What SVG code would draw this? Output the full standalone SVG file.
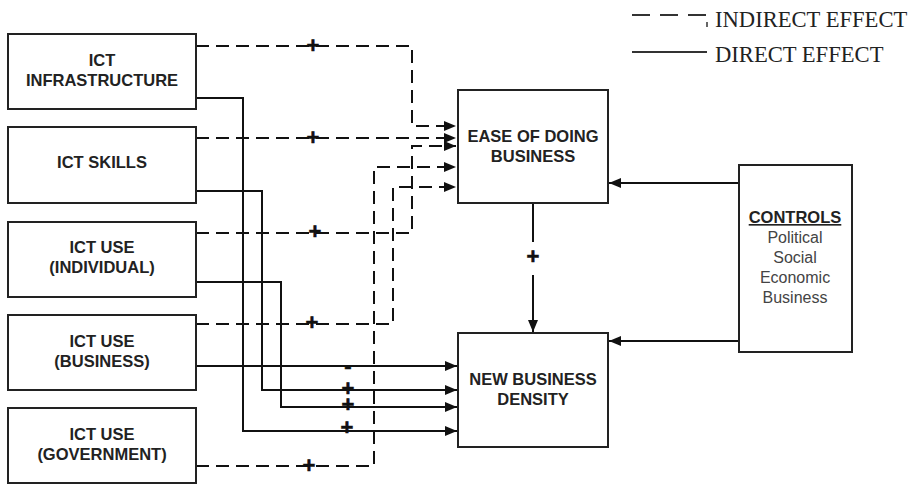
<svg xmlns="http://www.w3.org/2000/svg" width="914" height="485" viewBox="0 0 914 485">
<style>
.box{fill:#fff;stroke:#222;stroke-width:2}
.lbl{font-family:"Liberation Sans",Arial,sans-serif;font-weight:bold;font-size:16.5px;fill:#222;text-anchor:middle}
.ctl{font-family:"Liberation Sans",Arial,sans-serif;font-size:16px;fill:#444;text-anchor:middle}
.sign{font-family:"Liberation Sans",Arial,sans-serif;font-weight:bold;font-size:22px;fill:#111;stroke:#111;stroke-width:0.6;text-anchor:middle}
.leg{font-family:"Liberation Serif","Times New Roman",serif;font-size:22.6px;fill:#222}
.solid{fill:none;stroke:#111;stroke-width:2}
.dash{fill:none;stroke:#111;stroke-width:2;stroke-dasharray:13 7}
</style>
<defs>
<marker id="ah" viewBox="0 0 12 10" refX="12" refY="5" markerWidth="12" markerHeight="10" markerUnits="userSpaceOnUse" orient="auto">
<path d="M0,0 L12,5 L0,10 Z" fill="#111"/>
</marker>
</defs>
<g id="legend">
<line x1="632" y1="15" x2="707" y2="15" stroke="#333" stroke-width="2" stroke-dasharray="18 10"/>
<line x1="707" y1="22" x2="707" y2="27" stroke="#333" stroke-width="1.5"/>
<text class="leg" x="715" y="27">INDIRECT EFFECT</text>
<line x1="632" y1="52" x2="707" y2="52" stroke="#333" stroke-width="2"/>
<text class="leg" x="715" y="62">DIRECT EFFECT</text>
</g>
<g id="connectors">
<path class="dash" d="M196,46 H412 V126 H456" marker-end="url(#ah)"/>
<path class="dash" d="M196,138 H456" marker-end="url(#ah)"/>
<path class="dash" d="M196,233 H412 V146 H456" marker-end="url(#ah)"/>
<path class="dash" d="M196,324 H393 V187 H456" marker-end="url(#ah)"/>
<path class="dash" d="M196,466 H374 V167 H456" marker-end="url(#ah)"/>
<path class="solid" d="M196,98 H243 V431 H457" marker-end="url(#ah)"/>
<path class="solid" d="M196,191 H262 V390 H457" marker-end="url(#ah)"/>
<path class="solid" d="M196,282 H281 V407 H457" marker-end="url(#ah)"/>
<path class="solid" d="M196,366 H457" marker-end="url(#ah)"/>
<path class="solid" d="M739,183 H609" marker-end="url(#ah)"/>
<path class="solid" d="M739,341 H609" marker-end="url(#ah)"/>
<path class="solid" d="M533,203 V242"/>
<path class="solid" d="M533,275 V332" marker-end="url(#ah)"/>
<text class="sign" x="313" y="53">+</text>
<text class="sign" x="313" y="145">+</text>
<text class="sign" x="315" y="239">+</text>
<text class="sign" x="312" y="330">+</text>
<text class="sign" x="309" y="473">+</text>
<text class="sign" x="348" y="373">-</text>
<text class="sign" x="348" y="396">+</text>
<text class="sign" x="348" y="412">+</text>
<text class="sign" x="347" y="435">+</text>
<text class="sign" x="533" y="264">+</text>
</g>
<g id="ict-infrastructure">
<rect class="box" x="8" y="34" width="188" height="75"/>
<text class="lbl" x="102" y="66">ICT</text>
<text class="lbl" x="102" y="86">INFRASTRUCTURE</text>
</g>
<g id="ict-skills">
<rect class="box" x="8" y="127" width="188" height="76"/>
<text class="lbl" x="102" y="168">ICT SKILLS</text>
</g>
<g id="ict-use-individual">
<rect class="box" x="8" y="222" width="188" height="75"/>
<text class="lbl" x="102" y="253">ICT USE</text>
<text class="lbl" x="102" y="273">(INDIVIDUAL)</text>
</g>
<g id="ict-use-business">
<rect class="box" x="8" y="315" width="188" height="75"/>
<text class="lbl" x="102" y="347">ICT USE</text>
<text class="lbl" x="102" y="367">(BUSINESS)</text>
</g>
<g id="ict-use-government">
<rect class="box" x="8" y="408" width="188" height="75"/>
<text class="lbl" x="102" y="440">ICT USE</text>
<text class="lbl" x="102" y="460">(GOVERNMENT)</text>
</g>
<g id="ease-of-doing-business">
<rect class="box" x="458" y="90" width="150" height="113"/>
<text class="lbl" x="533" y="142">EASE OF DOING</text>
<text class="lbl" x="533" y="162">BUSINESS</text>
</g>
<g id="new-business-density">
<rect class="box" x="458" y="333" width="150" height="114"/>
<text class="lbl" x="533" y="385">NEW BUSINESS</text>
<text class="lbl" x="533" y="405">DENSITY</text>
</g>
<g id="controls">
<rect class="box" x="739" y="165" width="113" height="187"/>
<text class="lbl" x="795" y="223" text-decoration="underline">CONTROLS</text>
<text class="ctl" x="795" y="243">Political</text>
<text class="ctl" x="795" y="263">Social</text>
<text class="ctl" x="795" y="283">Economic</text>
<text class="ctl" x="795" y="303">Business</text>
</g>
</svg>
